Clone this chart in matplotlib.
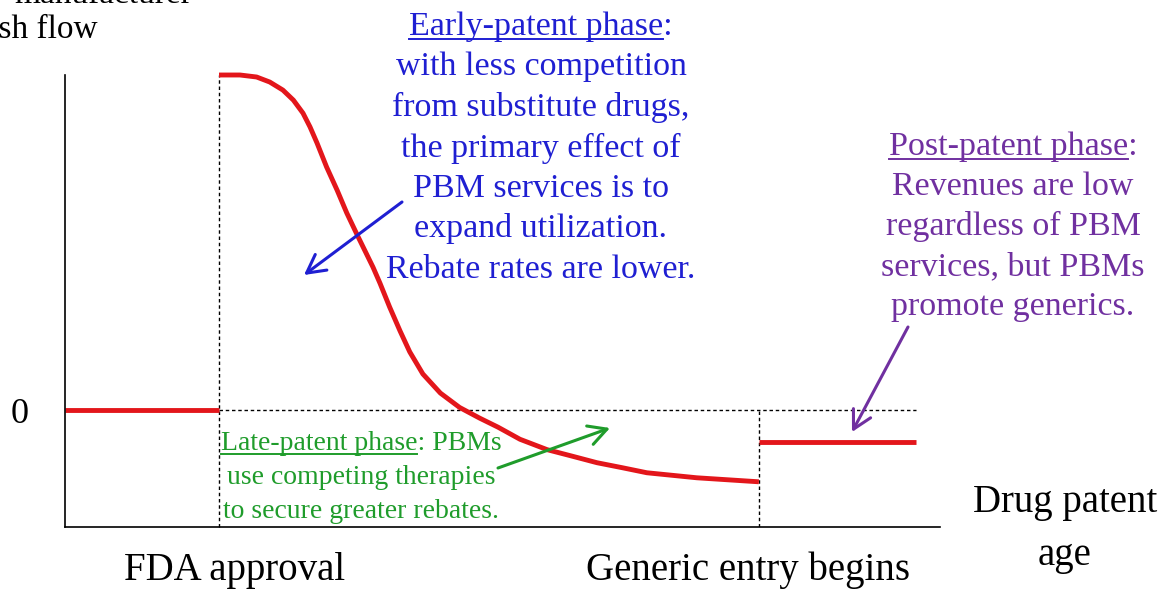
import matplotlib
matplotlib.use('Agg')
import matplotlib.pyplot as plt
from matplotlib.lines import Line2D

plt.rcParams['font.family'] = ['Liberation Serif', 'DejaVu Serif']

W, H = 1172, 589

# drug manufacturer cash flow vs patent age (0 = break-even)
curve_age = [1.76, 2.00, 2.19, 2.34, 2.49, 2.61, 2.72, 2.80, 2.88, 2.99, 3.11, 3.22,
             3.34, 3.52, 3.60, 3.71, 3.83, 3.94, 4.09, 4.29, 4.51, 4.74, 4.95, 5.20,
             5.51, 5.79, 6.08, 6.37, 6.65, 7.22, 7.93]
curve_cash = [1.0, 1.0, 0.994, 0.979, 0.955, 0.925, 0.886, 0.845, 0.797, 0.725, 0.656, 0.588,
              0.522, 0.426, 0.378, 0.307, 0.235, 0.173, 0.107, 0.050, 0.007, -0.025, -0.052, -0.088,
              -0.119, -0.138, -0.158, -0.173, -0.188, -0.203, -0.215]
pre_age = [0, 1.76]
pre_cash = [0, 0]
post_age = [7.93, 9.73]
post_cash = [-0.096, -0.096]
fda_age = 1.76
generic_age = 7.93
zero_end = 9.73

early_lines = ['Early-patent phase:', 'with less competition', 'from substitute drugs,',
               'the primary effect of', 'PBM services is to', 'expand utilization.',
               'Rebate rates are lower.']
late_lines = ['Late-patent phase: PBMs', 'use competing therapies', 'to secure greater rebates.']
post_lines = ['Post-patent phase:', 'Revenues are low', 'regardless of PBM',
              'services, but PBMs', 'promote generics.']

red = '#e3161b'
blue = '#1f1fd2'
green = '#1f9c2b'
purple = '#7030a0'

fig = plt.figure(figsize=(W / 100, H / 100), dpi=100)
ax = fig.add_axes([65 / W, 1 - 527 / H, 875 / W, 452 / H])
ax.set_xlim(0, 10)
ax.set_ylim(-0.35, 1.0)
for s in ['top', 'right']:
    ax.spines[s].set_visible(False)
for s in ['left', 'bottom']:
    ax.spines[s].set_linewidth(1.2)
ax.set_xticks([])
ax.set_yticks([])

dash = (0, (2.5, 2))
ax.plot([fda_age, fda_age], [-0.35, 1.0], color='black', lw=1, ls=dash, clip_on=False)
ax.plot([generic_age, generic_age], [-0.35, 0], color='black', lw=1, ls=dash)
ax.plot([fda_age, zero_end], [0, 0], color='black', lw=1, ls=dash)

ax.plot(pre_age, pre_cash, color=red, lw=3.5, solid_capstyle='butt')
ax.plot(curve_age, curve_cash, color=red, lw=3.5, clip_on=False,
        solid_capstyle='butt', solid_joinstyle='round')
ax.plot(post_age, post_cash, color=red, lw=3.5, solid_capstyle='butt')


def fx(px):
    return px / W


def fy(py):
    return 1 - py / H


renderer = fig.canvas.get_renderer()


def block(lines, cx, base0, step, color, size, head):
    for i, line in enumerate(lines):
        t = fig.text(fx(cx), fy(base0 + i * step), line, ha='center', va='baseline',
                     color=color, fontsize=size)
        if i == 0:
            bb = t.get_window_extent(renderer)
            w, _, _ = renderer.get_text_width_height_descent(head, t.get_fontproperties(), ismath=False)
            uy = fy(base0 + 4)
            fig.add_artist(Line2D([bb.x0 / W, (bb.x0 + w) / W], [uy, uy],
                                  transform=fig.transFigure, color=color, lw=1.4))


def arrow(p0, p1, color):
    ax.annotate('', xy=(fx(p1[0]), fy(p1[1])), xytext=(fx(p0[0]), fy(p0[1])),
                xycoords='figure fraction', textcoords='figure fraction',
                arrowprops=dict(arrowstyle='->,head_length=0.65,head_width=0.35',
                                color=color, lw=2.2, mutation_scale=20,
                                shrinkA=0, shrinkB=0))


block(early_lines, 541, 35, 40.5, blue, 24.5, 'Early-patent phase')
block(late_lines, 361, 450, 34, green, 20, 'Late-patent phase')
block(post_lines, 1013, 155, 40, purple, 24.5, 'Post-patent phase')

arrow((402, 202), (304, 275), blue)
arrow((498, 468), (610, 428), green)
arrow((908, 327), (852, 432), purple)

lab = 28
fig.text(fx(20), fy(423), '0', ha='center', va='baseline', fontsize=26)
fig.text(fx(235), fy(580), 'FDA approval', ha='center', va='baseline', fontsize=lab)
fig.text(fx(748), fy(580), 'Generic entry begins', ha='center', va='baseline', fontsize=lab)
fig.text(fx(1065), fy(512), 'Drug patent', ha='center', va='baseline', fontsize=lab)
fig.text(fx(1065), fy(565), 'age', ha='center', va='baseline', fontsize=lab)
# y-axis title, partly outside the picture as in the source
fig.text(fx(192), fy(3), 'manufacturer', ha='right', va='baseline', fontsize=24)
fig.text(fx(98), fy(38), 'cash flow', ha='right', va='baseline', fontsize=24)

fig.savefig('out.png', dpi=100)
